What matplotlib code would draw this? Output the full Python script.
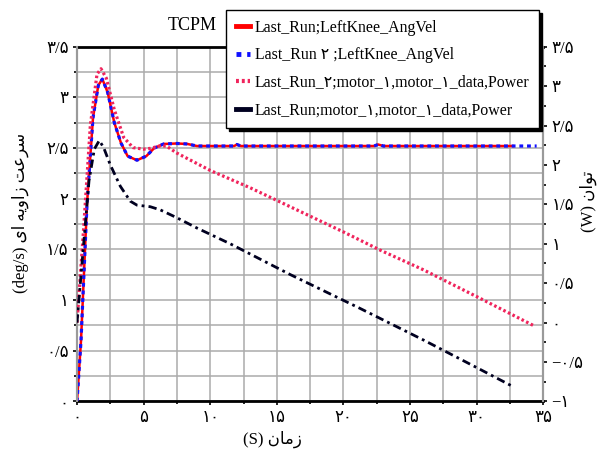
import matplotlib
matplotlib.use("Agg")
import matplotlib.pyplot as plt
from matplotlib.ticker import MultipleLocator, FuncFormatter
from matplotlib.lines import Line2D

# ── data ──
# angular velocity (left axis, deg/s)
t_vel = [0, 0.3, 0.75, 1.2, 1.6, 1.9, 2.3, 2.8, 3.3, 3.8, 4.5, 5.2, 5.8, 6.5, 7.5, 8.3,
         9.0, 11.8, 12.0, 12.3, 22.3, 22.6, 23.0, 32.7, 34.5]
vel = [0, 0.6, 1.95, 2.8, 3.12, 3.18, 3.05, 2.75, 2.55, 2.42, 2.38, 2.42, 2.5, 2.54, 2.545, 2.54,
       2.52, 2.52, 2.535, 2.52, 2.52, 2.535, 2.52, 2.52, 2.52]
red_end = 32.7

# power, run 2 (right axis, W)
t_p2 = [0, 0.5, 1.0, 1.5, 1.8, 2.2, 2.8, 3.5, 4.2, 5.0, 5.5, 6.2, 6.7, 7.5, 10, 13, 16, 20,
        22.75, 26, 30, 34.3]
p2 = [0.0, 1.2, 2.5, 3.15, 3.22, 3.1, 2.7, 2.35, 2.22, 2.2, 2.21, 2.24, 2.24, 2.15, 1.93, 1.71,
      1.47, 1.15, 0.92, 0.67, 0.33, -0.04]

# power, run 1 (right axis, W)
t_p1 = [0, 0.4, 0.9, 1.3, 1.67, 2.0, 2.5, 3.25, 4.0, 4.5, 5.5, 6.25, 7.5, 9.0, 11.5, 16,
        21.25, 26, 30, 32.6]
p1 = [0.0, 0.8, 1.8, 2.2, 2.31, 2.22, 2.0, 1.73, 1.54, 1.49, 1.47, 1.43, 1.33, 1.2, 1.0, 0.61,
      0.18, -0.22, -0.57, -0.80]

labels = ["Last_Run;LeftKnee_AngVel",
          "Last_Run ۲ ;LeftKnee_AngVel",
          "Last_Run_۲;motor_۱,motor_۱_data,Power",
          "Last_Run;motor_۱,motor_۱_data,Power"]

# shaped persian strings, visual order
xlab = "(S) " + "\ufee5\ufe8e\ufee3\ufeaf"
ylab_l = "(deg/s) " + "\ufeef\ufe8d" + " " + "\ufeea\ufef3\ufeed\ufe8d\ufeaf" + " " + "\ufe96\ufecb\ufeae\ufeb3"
ylab_r = "(W) " + "\ufee5\ufe8d\ufeee\ufe97"

FONT = ["Liberation Serif", "DejaVu Sans"]
plt.rcParams["font.family"] = FONT

fa = str.maketrans("0123456789.-", "۰۱۲۳۴۵۶۷۸۹/\u2212")
fmt = FuncFormatter(lambda v, p: f"{v:g}".translate(fa))

fig = plt.figure(figsize=(6.05, 4.62), dpi=100)
ax = fig.add_axes([0.1273, 0.131, 0.7707, 0.768])
ax2 = ax.twinx()

ax.set_xlim(0, 35)
ax.set_ylim(0, 3.5)
ax2.set_ylim(-1, 3.5)

ax.xaxis.set_major_locator(MultipleLocator(5))
ax.xaxis.set_minor_locator(MultipleLocator(2.5))
ax.yaxis.set_major_locator(MultipleLocator(0.5))
ax.yaxis.set_minor_locator(MultipleLocator(0.25))
ax2.yaxis.set_major_locator(MultipleLocator(0.5))
ax2.yaxis.set_minor_locator(MultipleLocator(0.25))
for a in (ax.xaxis, ax.yaxis, ax2.yaxis):
    a.set_major_formatter(fmt)

ax.grid(which="both", color="#ababab", linewidth=1.1)
ax.set_axisbelow(True)

ax.tick_params(which="major", length=3, width=1.2, color="k", labelsize=12, pad=3)
ax.tick_params(which="minor", length=2, width=1.2, color="k")
ax2.tick_params(which="major", length=3, width=1.2, color="k", labelsize=12, pad=3)
ax2.tick_params(which="minor", length=2, width=1.2, color="k")

for s in ("left", "right"):
    ax.spines[s].set_color("#9a9a9a")
    ax2.spines[s].set_color("#9a9a9a")
    ax.spines[s].set_linewidth(1.5)
    ax2.spines[s].set_linewidth(1.5)
for s in ("top", "bottom"):
    ax.spines[s].set_color("k")
    ax.spines[s].set_linewidth(2)
    ax2.spines[s].set_visible(False)

# red solid stops earlier than blue
t_red = [t for t in t_vel if t <= red_end]
v_red = vel[:len(t_red)]
ax.plot(t_red, v_red, color="#ff0000", linewidth=1.8, zorder=3)
ax.plot(t_vel, vel, color="#1010ff", linewidth=2.3, linestyle=(0, (1.2, 1.2)), zorder=4)

ax2.plot(t_p2, p2, color="#f0245c", linewidth=2.3, linestyle=(0, (0.8, 0.8)), zorder=3)
ax2.plot(t_p1, p1, color="#000020", linewidth=2, linestyle=(0, (3, 1.5, 1, 1.5)), zorder=3)

handles = [
    Line2D([], [], color="#ff0000", linewidth=3.5),
    Line2D([], [], color="#1010ff", linewidth=3.5, linestyle=(0, (1, 1.2))),
    Line2D([], [], color="#f0245c", linewidth=3, linestyle=(0, (0.7, 0.7))),
    Line2D([], [], color="#000020", linewidth=3.5),
]
fig.legend(handles, labels, loc="upper left", bbox_to_anchor=(0.3736, 0.978),
           borderaxespad=0, fontsize=11.4, handlelength=0.9, handletextpad=0.3,
           labelspacing=0.72, borderpad=0.62, fancybox=False, framealpha=1,
           edgecolor="k", shadow={"facecolor": "k", "edgecolor": "k", "alpha": 1})

fig.text(0.318, 0.945, "TCPM", fontsize=13, ha="center", va="center")
fig.text(0.45, 0.05, xlab, fontsize=12, ha="center", va="center")
fig.text(0.033, 0.54, ylab_l, fontsize=12, ha="center", va="center", rotation=90)
fig.text(0.972, 0.565, ylab_r, fontsize=12, ha="center", va="center", rotation=90)

fig.savefig("out.png", dpi=100)
